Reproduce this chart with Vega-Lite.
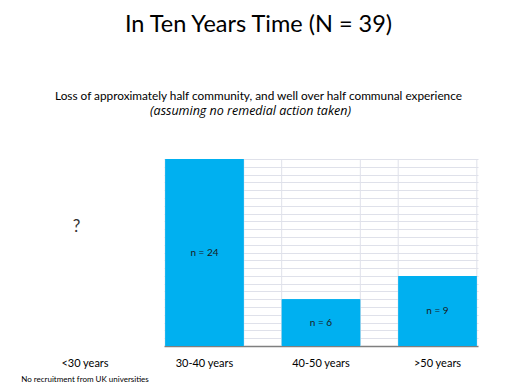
{
  "$schema": "https://vega.github.io/schema/vega-lite/v6.json",
  "padding": {"left": 5, "right": 5, "top": 12, "bottom": 2},
  "background": "white",
  "config": {"view": {"stroke": null}, "font": "Lato", "concat": {"spacing": 0}},
  "title": {
    "text": "In Ten Years Time (N = 39)",
    "subtitle": "Loss of approximately half community, and well over half communal experience",
    "fontSize": 23.5, "fontWeight": "normal", "color": "#000000",
    "subtitleFontSize": 11.8, "subtitleColor": "#000000", "subtitlePadding": 55,
    "anchor": "middle", "dx": 17, "offset": 2
  },
  "vconcat": [
    {
      "title": {
        "text": "(assuming no remedial action taken)",
        "font": "Open Sans", "fontStyle": "italic", "fontSize": 12.5, "fontWeight": "normal", "color": "#000000",
        "offset": 41, "anchor": "middle", "dx": 9
      },
      "hconcat": [
        {
          "width": 159, "height": 187,
          "data": {"values": [{"age": "<30 years", "label": "?"}]},
          "mark": {"type": "text", "fontSize": 17, "color": "#333333", "dx": -8},
          "encoding": {
            "x": {"field": "age", "type": "nominal",
              "axis": {"title": "No recruitment from UK universities", "titleFontSize": 8, "titleFontWeight": "normal",
                "titlePadding": 7, "titleColor": "#000000", "labelFontSize": 11, "labelAngle": 0, "labelPadding": 11,
                "labelColor": "#000000", "domain": false, "ticks": false}},
            "y": {"datum": 15.3, "type": "quantitative", "scale": {"domain": [0, 24]}, "axis": null},
            "text": {"field": "label"}
          }
        },
        {
          "width": 314, "height": 187,
          "data": {"values": [
            {"age": "30-40 years", "n": 24, "label": "n = 24"},
            {"age": "40-50 years", "n": 6, "label": "n = 6"},
            {"age": ">50 years", "n": 9, "label": "n = 9"}
          ]},
          "encoding": {
            "x": {"field": "age", "type": "nominal", "sort": null,
              "scale": {"paddingInner": 0.325, "paddingOuter": 0.01},
              "axis": {"title": null, "labelAngle": 0, "labelFontSize": 11, "labelPadding": 11, "labelColor": "#000000",
                "ticks": false, "domainColor": "#7f7f7f", "domainWidth": 1.5}}
          },
          "layer": [
            {
              "mark": {"type": "bar", "color": "#00b0f0"},
              "encoding": {
                "y": {"field": "n", "type": "quantitative", "scale": {"domain": [0, 24]},
                  "axis": {"grid": true, "values": [1,2,3,4,5,6,7,8,9,10,11,12,13,14,15,16,17,18,19,20,21,22,23,24],
                    "gridColor": "#dfe1ea", "gridWidth": 1, "domain": false, "ticks": false, "labels": false, "title": null}}
              }
            },
            {
              "mark": {"type": "rule", "color": "#dfe1ea"},
              "encoding": {"x": {"field": "age", "type": "nominal", "sort": null, "bandPosition": 0}}
            },
            {
              "mark": {"type": "rule", "color": "#dfe1ea"},
              "encoding": {"x": {"field": "age", "type": "nominal", "sort": null, "bandPosition": 1}}
            },
            {
              "mark": {"type": "bar", "color": "#00b0f0"},
              "encoding": {"y": {"field": "n", "type": "quantitative",
                "axis": {"grid": true, "values": [1,2,3,4,5,6,7,8,9,10,11,12,13,14,15,16,17,18,19,20,21,22,23,24],
                    "gridColor": "#dfe1ea", "gridWidth": 1, "domain": false, "ticks": false, "labels": false, "title": null}}}
            },
            {
              "transform": [{"calculate": "datum.n / 2", "as": "mid"}],
              "mark": {"type": "text", "fontSize": 10, "color": "#1a1a1a"},
              "encoding": {
                "y": {"field": "mid", "type": "quantitative",
                  "axis": {"grid": true, "values": [1,2,3,4,5,6,7,8,9,10,11,12,13,14,15,16,17,18,19,20,21,22,23,24],
                    "gridColor": "#dfe1ea", "gridWidth": 1, "domain": false, "ticks": false, "labels": false, "title": null}},
                "text": {"field": "label"}
              }
            }
          ]
        }
      ]
    }
  ]
}
